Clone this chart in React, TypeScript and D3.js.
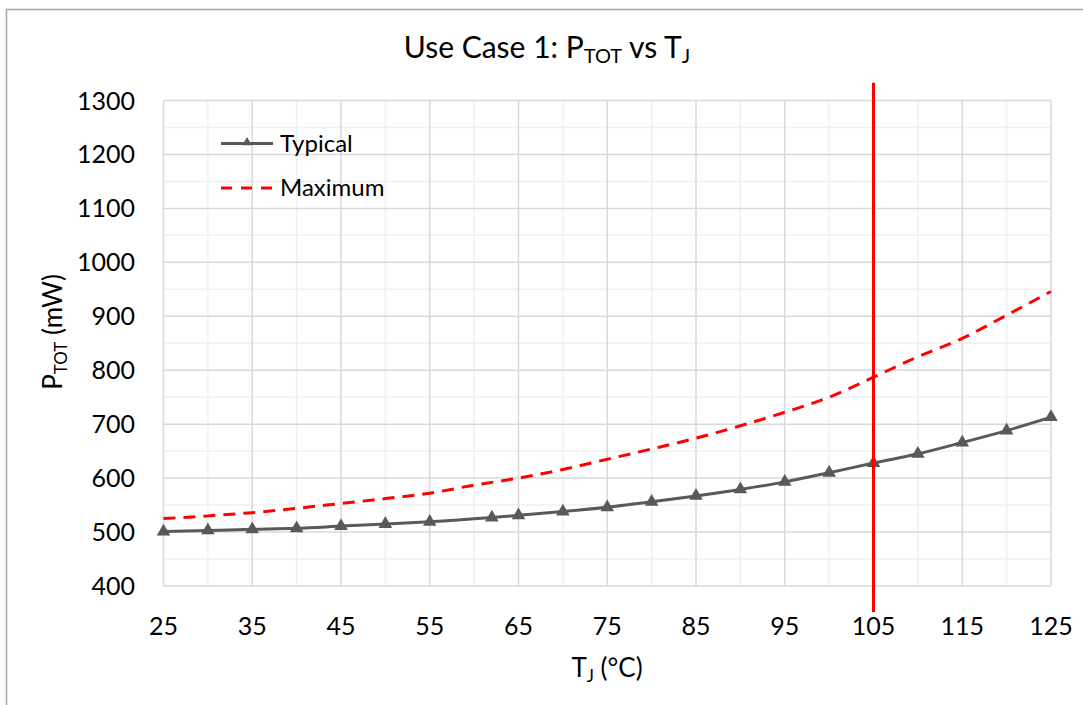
import * as d3 from 'd3';

// junction temperature (°C) and total power (mW)
const typicalT = [25, 30, 35, 40, 45, 50, 55, 62, 65, 70, 75, 80, 85, 90, 95, 100, 105, 110, 115, 120, 125];
const typicalP = [501, 503, 505, 507, 511, 515, 519, 527, 531, 538, 546, 556, 567, 579, 593, 610, 628, 645, 666, 688, 713];

const maxT = [25, 30, 35, 40, 45, 50, 55, 60, 65, 70, 75, 80, 85, 90, 95, 100, 105, 110, 115, 120, 125];
const maxP = [525, 530, 536, 544, 553, 562, 572, 587, 600, 616, 635, 654, 674, 697, 722, 750, 787, 825, 859, 902, 946];

// vertical limit marker at 105 °C
const limitT = 105;
const limitP = [1333, 352];

const xMajor = [25, 35, 45, 55, 65, 75, 85, 95, 105, 115, 125];
const xMinor = [30, 40, 50, 60, 70, 80, 90, 100, 110, 120];
const yMajor = [400, 500, 600, 700, 800, 900, 1000, 1100, 1200, 1300];
const yMinor = [450, 550, 650, 750, 850, 950, 1050, 1150, 1250];

const FONT = "Lato, 'Open Sans', sans-serif";

export default function App() {
  const width = 1083;
  const height = 705;
  const left = 163.5;
  const right = 1051;
  const top = 100.5;
  const bottom = 586;

  const x = d3.scaleLinear().domain([25, 125]).range([left, right]);
  const y = d3.scaleLinear().domain([400, 1300]).range([bottom, top]);

  const line = d3.line<[number, number]>()
    .x(d => x(d[0]))
    .y(d => y(d[1]))
    .curve(d3.curveMonotoneX);

  const typical = typicalT.map((t, i) => [t, typicalP[i]] as [number, number]);
  const maximum = maxT.map((t, i) => [t, maxP[i]] as [number, number]);

  const tri = d3.symbol().type(d3.symbolTriangle).size(80)();
  const triSmall = d3.symbol().type(d3.symbolTriangle).size(40)();

  return (
    <div style={{ position: 'absolute', left: 0, top: 0 }}>
      <svg width={width} height={height} style={{ display: 'block', background: '#fff' }}>
        <rect x={6.5} y={9.5} width={width + 10} height={height + 10} fill="#fff" stroke="#a6a6a6" strokeWidth={1.5} />

        {/* minor grid */}
        {xMinor.map(v => (
          <line key={'xm' + v} x1={x(v)} x2={x(v)} y1={top} y2={bottom} stroke="#f0f0f0" strokeWidth={1.5} />
        ))}
        {yMinor.map(v => (
          <line key={'ym' + v} x1={left} x2={right} y1={y(v)} y2={y(v)} stroke="#f0f0f0" strokeWidth={1.5} />
        ))}
        {/* major grid */}
        {xMajor.map(v => (
          <line key={'xM' + v} x1={x(v)} x2={x(v)} y1={top} y2={bottom} stroke="#d9d9d9" strokeWidth={1.5} />
        ))}
        {yMajor.map(v => (
          <line key={'yM' + v} x1={left} x2={right} y1={y(v)} y2={y(v)} stroke="#d9d9d9" strokeWidth={1.5} />
        ))}

        {/* tick labels */}
        {yMajor.map(v => (
          <text key={'yl' + v} x={135} y={y(v)} dy="0.36em" textAnchor="end"
            fontFamily={FONT} fontSize={25} fill="#000">{v}</text>
        ))}
        {xMajor.map(v => (
          <text key={'xl' + v} x={x(v)} y={635} textAnchor="middle"
            fontFamily={FONT} fontSize={25} fill="#000">{v}</text>
        ))}

        {/* series */}
        <path d={line(maximum) || ''} fill="none" stroke="#ff0000" strokeWidth={3} strokeDasharray="12 8" />
        <path d={line(typical) || ''} fill="none" stroke="#595959" strokeWidth={3} />
        {typical.map(d => (
          <path key={'m' + d[0]} d={tri || ''} transform={`translate(${x(d[0])},${y(d[1])})`} fill="#595959" />
        ))}

        <line x1={x(limitT)} x2={x(limitT)} y1={y(limitP[0])} y2={y(limitP[1])} stroke="#ff0000" strokeWidth={3} />

        {/* legend */}
        <line x1={221} x2={273} y1={143.5} y2={143.5} stroke="#595959" strokeWidth={3} />
        <path d={triSmall || ''} transform="translate(247,142.5)" fill="#595959" />
        <text x={280} y={151.5} fontFamily={FONT} fontSize={24} fill="#000">Typical</text>
        <line x1={221} x2={273} y1={188} y2={188} stroke="#ff0000" strokeWidth={3} strokeDasharray="11 9" />
        <text x={280} y={196} fontFamily={FONT} fontSize={24} fill="#000">Maximum</text>

        {/* title */}
        <text x={547} y={58} textAnchor="middle" fontFamily={FONT} fontSize={30} fill="#000">
          Use Case 1: P<tspan fontSize={20} dy={5}>TOT</tspan><tspan dy={-5}> vs T</tspan><tspan fontSize={20} dy={5}>J</tspan>
        </text>

        {/* axis titles */}
        <text x={607} y={677} textAnchor="middle" fontFamily={FONT} fontSize={26} fill="#000">
          T<tspan fontSize={17} dy={5}>J</tspan><tspan dy={-5}> (°C)</tspan>
        </text>
        <text transform="translate(62,332) rotate(-90)" textAnchor="middle" fontFamily={FONT} fontSize={26} fill="#000">
          P<tspan fontSize={17} dy={5}>TOT</tspan><tspan dy={-5}> (mW)</tspan>
        </text>
      </svg>
    </div>
  );
}
